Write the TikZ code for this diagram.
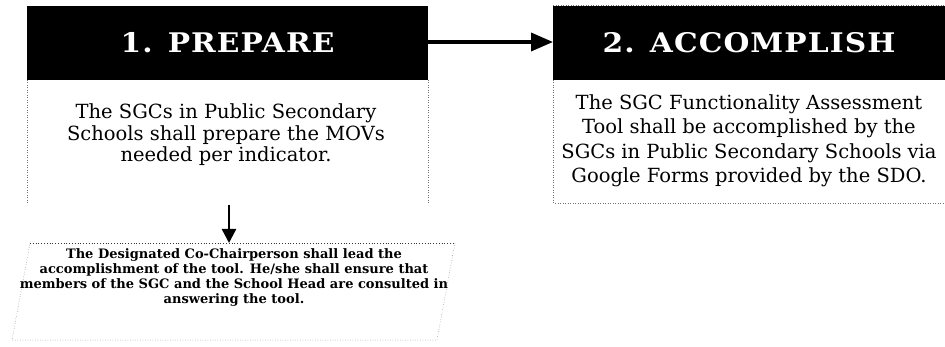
\documentclass[tikz,border=0pt]{standalone}
\usepackage{fontspec}
\setmainfont{DejaVu Serif}
\newfontfamily\headfont[FakeStretch=1.1,LetterSpace=4]{DejaVu Serif Bold}
\usetikzlibrary{arrows.meta}
\tikzset{
  header/.style={fill=black, draw=none},
  headtext/.style={text=white, font=\fontsize{27}{30}\headfont, inner sep=0pt},
  bodytext/.style={align=center, font=\fontsize{19.5}{21}\selectfont, inner sep=0pt},
  notetext/.style={align=center, font=\fontsize{13}{15}\selectfont\bfseries, inner sep=0pt},
  faint/.style={draw=black!55, dotted, line width=0.5pt},
  edge3/.style={draw=black!80, dotted, line width=0.8pt},
  flow/.style={line width=3.6pt, -{Triangle[length=22pt,width=18pt]}},
  flowdown/.style={line width=2.4pt, -{Triangle[length=14pt,width=14pt]}}
}
\begin{document}
\begin{tikzpicture}[x=1pt,y=-1pt]
\useasboundingbox[fill=white] (0,0) rectangle (945,347);
% box 1
\fill[header] (27,6) rectangle (428,80);
\node[headtext] (h1) at (227.5,43) {1. PREPARE};
\draw[faint] (27,80) -- (27,205);
\draw[faint] (428,80) -- (428,205);
\node[bodytext, font=\fontsize{19.5}{21.5}\selectfont] (b1) at (226,135) {The SGCs in Public Secondary\\Schools shall prepare the MOVs\\needed per indicator.};
% box 2
\fill[header] (553,6) rectangle (945,80);
\draw[faint] (553,5) -- (945,5);
\node[headtext] (h2) at (749,43) {2. ACCOMPLISH};
\draw[faint] (553,80) -- (553,203) -- (945,203);
\node[bodytext, font=\fontsize{19.5}{24.5}\selectfont] (b2) at (749,141) {The SGC Functionality Assessment\\Tool shall be accomplished by the\\SGCs in Public Secondary Schools via\\Google Forms provided by the SDO.};
% box 3
\coordinate (p1) at (30,243);
\coordinate (p2) at (455,243);
\coordinate (p3) at (437,340);
\coordinate (p4) at (12,340);
\draw[faint] (p2) -- (p3) -- (p4) -- (p1);
\draw[edge3] (p1) -- (p2);
\node[notetext] (n3) at (234,278) {The Designated Co-Chairperson shall lead the\\accomplishment of the tool. He/she shall ensure that\\members of the SGC and the School Head are consulted in\\answering the tool.};
% connectors
\coordinate (a1) at (428,42);
\coordinate (a2) at (553,42);
\draw[flow] (a1) -- (a2);
\coordinate (d1) at (229,205);
\coordinate (d2) at (229,243);
\draw[flowdown] (d1) -- (d2);
\end{tikzpicture}
\end{document}
